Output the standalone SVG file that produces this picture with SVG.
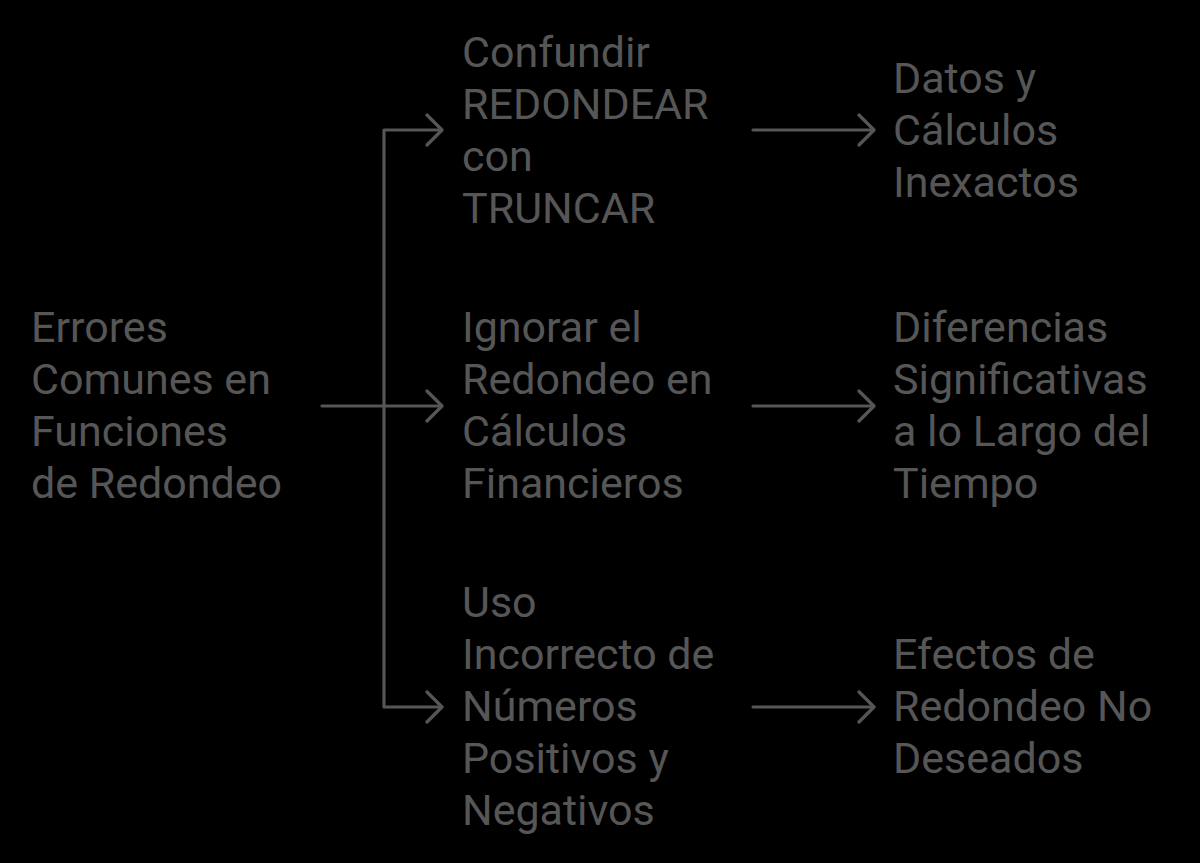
<svg xmlns="http://www.w3.org/2000/svg" width="1200" height="863" viewBox="0 0 1200 863">
<style>
text{font-family:Roboto,"Liberation Sans",sans-serif;font-size:43px;fill:#565656}
.c{fill:none;stroke:#565656;stroke-width:3.2;stroke-linecap:round;stroke-linejoin:round}
</style>
<rect width="1200" height="863" fill="#000"/>
<g id="connectors">
<path class="c" d="M322 406H441 M384 130V707 M384 130H441 M384 707H441"/>
<path class="c" d="M427 115L442 130L427 145 M427 391L442 406L427 421 M427 692L442 707L427 722"/>
<path class="c" d="M753 130H873 M753 406H873 M753 707H873"/>
<path class="c" d="M859 115L874 130L859 145 M859 391L874 406L859 421 M859 692L874 707L859 722"/>
</g>
<g id="n-root"><text x="31"><tspan x="31" y="342">Errores</tspan><tspan x="31" y="394">Comunes en</tspan><tspan x="31" y="446">Funciones</tspan><tspan x="31" y="498">de Redondeo</tspan></text></g>
<g id="n-a"><text><tspan x="462" y="67">Confundir</tspan><tspan x="462" y="119">REDONDEAR</tspan><tspan x="462" y="171">con</tspan><tspan x="462" y="223">TRUNCAR</tspan></text></g>
<g id="n-b"><text><tspan x="462" y="342">Ignorar el</tspan><tspan x="462" y="394">Redondeo en</tspan><tspan x="462" y="446">Cálculos</tspan><tspan x="462" y="498">Financieros</tspan></text></g>
<g id="n-c"><text><tspan x="462" y="617">Uso</tspan><tspan x="462" y="669">Incorrecto de</tspan><tspan x="462" y="721">Números</tspan><tspan x="462" y="773">Positivos y</tspan><tspan x="462" y="825">Negativos</tspan></text></g>
<g id="n-a2"><text><tspan x="893" y="93">Datos y</tspan><tspan x="893" y="145">Cálculos</tspan><tspan x="893" y="197">Inexactos</tspan></text></g>
<g id="n-b2"><text><tspan x="893" y="342">Diferencias</tspan><tspan x="893" y="394">Significativas</tspan><tspan x="893" y="446">a lo Largo del</tspan><tspan x="893" y="498">Tiempo</tspan></text></g>
<g id="n-c2"><text><tspan x="893" y="669">Efectos de</tspan><tspan x="893" y="721">Redondeo No</tspan><tspan x="893" y="773">Deseados</tspan></text></g>
</svg>
